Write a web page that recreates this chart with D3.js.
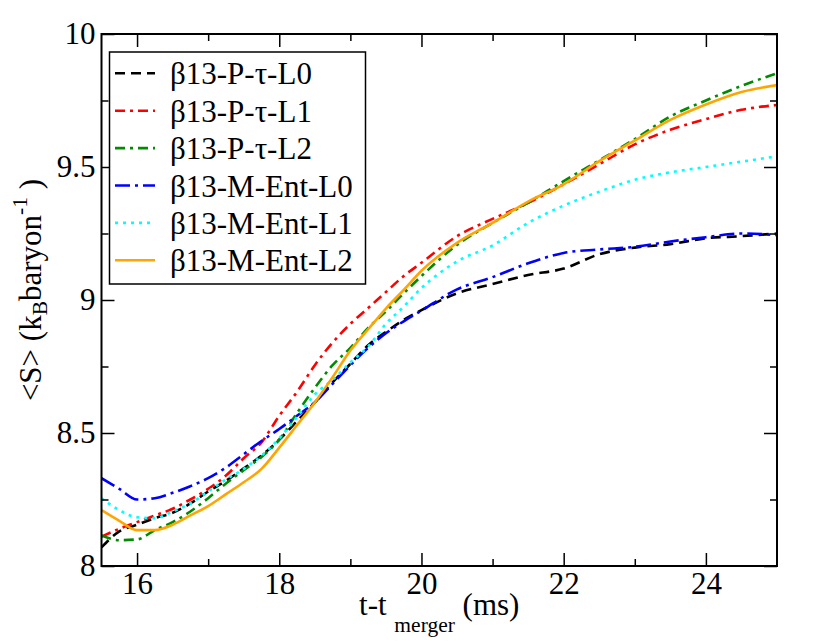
<!DOCTYPE html>
<html><head><meta charset="utf-8">
<script src="https://cdn.jsdelivr.net/npm/d3@7"></script>
<style>body{margin:0;background:#fff}svg{display:block}</style>
</head><body>
<svg id="c" width="830" height="642"></svg>
<script>
const times = [15.5,15.75,16,16.25,16.5,16.75,17,17.25,17.5,17.75,18,18.25,18.5,18.75,19,19.25,19.5,19.75,20,20.5,21,21.5,22,22.5,23,23.5,24,24.5,25];
const pTauL0 = [8.07,8.13,8.155,8.18,8.20,8.235,8.28,8.32,8.367,8.415,8.475,8.545,8.615,8.69,8.76,8.83,8.88,8.925,8.962,9.025,9.06,9.094,9.118,9.172,9.197,9.21,9.232,9.24,9.25];
const pTauL1 = [8.11,8.14,8.165,8.19,8.215,8.25,8.29,8.34,8.405,8.465,8.565,8.655,8.755,8.84,8.91,8.97,9.03,9.09,9.14,9.24,9.305,9.365,9.435,9.51,9.585,9.64,9.68,9.715,9.733];
const pTauL2 = [8.115,8.097,8.10,8.135,8.165,8.205,8.255,8.31,8.36,8.41,8.475,8.575,8.67,8.755,8.82,8.895,8.957,9.025,9.09,9.207,9.29,9.366,9.447,9.525,9.605,9.69,9.75,9.805,9.852];
const mEntL0 = [8.33,8.29,8.25,8.255,8.275,8.30,8.33,8.37,8.42,8.47,8.515,8.565,8.615,8.685,8.755,8.82,8.875,8.92,8.96,9.04,9.086,9.138,9.177,9.19,9.20,9.22,9.236,9.25,9.244];
const mEntL1 = [8.255,8.21,8.183,8.18,8.205,8.235,8.28,8.325,8.365,8.415,8.48,8.56,8.645,8.70,8.765,8.825,8.91,8.975,9.045,9.145,9.205,9.29,9.355,9.407,9.452,9.48,9.50,9.52,9.54];
const mEntL2 = [8.21,8.17,8.135,8.135,8.155,8.19,8.225,8.27,8.315,8.365,8.445,8.53,8.615,8.71,8.81,8.89,8.968,9.038,9.11,9.215,9.29,9.37,9.435,9.522,9.60,9.677,9.735,9.782,9.808];
const seriesNames = ["β13-P-τ-L0","β13-P-τ-L1","β13-P-τ-L2","β13-M-Ent-L0","β13-M-Ent-L1","β13-M-Ent-L2"];
const xMajor = [16,18,20,22,24];
const xMinor = [17,19,21,23];
const yMajor = [8,8.5,9,9.5,10];
const yMinor = [8.25,8.75,9.25,9.75];

const styles = [
  {color:"#000000", dash:"10,6"},
  {color:"#ff0000", dash:"10,5,3,5"},
  {color:"#008b00", dash:"10,5,3,5"},
  {color:"#0000ff", dash:"15,5,3,5"},
  {color:"#00ffff", dash:"3,5"},
  {color:"#ffa500", dash:null}
];
const allValues = [pTauL0,pTauL1,pTauL2,mEntL0,mEntL1,mEntL2];

const L=101.5, R=777, T=34, B=566;
const FS = 31;
function setFont(s){ return s.style("font-family", '"Liberation Serif", Tinos, Times, serif', "important"); }
const svg = d3.select("#c");
const x = d3.scaleLinear().domain([15.5,25]).range([L,R]);
const y = d3.scaleLinear().domain([8,10]).range([B,T]);

svg.append("defs").append("clipPath").attr("id","clip")
  .append("rect").attr("x",L).attr("y",T).attr("width",R-L).attr("height",B-T);

const line = d3.line().x(d=>x(d[0])).y(d=>y(d[1])).curve(d3.curveMonotoneX);
const g = svg.append("g").attr("clip-path","url(#clip)");
allValues.forEach((vals,i)=>{
  g.append("path").datum(times.map((t,k)=>[t,vals[k]]))
    .attr("d",line).attr("fill","none")
    .attr("stroke",styles[i].color).attr("stroke-width",2.6)
    .attr("stroke-dasharray",styles[i].dash);
});

function styleAxis(sel){
  sel.attr("font-family",null).attr("font-size",FS);
  sel.select(".domain").remove();
  sel.selectAll(".tick line").attr("stroke","#000").attr("stroke-width",1.5);
  sel.selectAll("text").attr("font-size",FS).attr("fill","#000").call(setFont);
}
svg.append("g").attr("transform",`translate(0,${B})`)
  .call(d3.axisBottom(x).tickValues(xMajor).tickSize(-13).tickPadding(5.5).tickFormat(d3.format("d")))
  .call(styleAxis);
svg.append("g").attr("transform",`translate(0,${B})`)
  .call(d3.axisBottom(x).tickValues(xMinor).tickSize(-7).tickFormat(""))
  .call(styleAxis);
svg.append("g").attr("transform",`translate(0,${T})`)
  .call(d3.axisTop(x).tickValues(xMajor).tickSize(-13).tickFormat(""))
  .call(styleAxis);
svg.append("g").attr("transform",`translate(0,${T})`)
  .call(d3.axisTop(x).tickValues(xMinor).tickSize(-7).tickFormat(""))
  .call(styleAxis);
svg.append("g").attr("transform",`translate(${L},0)`)
  .call(d3.axisLeft(y).tickValues(yMajor).tickSize(-13).tickPadding(6).tickFormat(d=>d3.format("")(d)))
  .call(styleAxis);
svg.append("g").attr("transform",`translate(${L},0)`)
  .call(d3.axisLeft(y).tickValues(yMinor).tickSize(-7).tickFormat(""))
  .call(styleAxis);
svg.append("g").attr("transform",`translate(${R},0)`)
  .call(d3.axisRight(y).tickValues(yMajor).tickSize(-13).tickFormat(""))
  .call(styleAxis);
svg.append("g").attr("transform",`translate(${R},0)`)
  .call(d3.axisRight(y).tickValues(yMinor).tickSize(-7).tickFormat(""))
  .call(styleAxis);

svg.append("rect").attr("x",L).attr("y",T).attr("width",R-L).attr("height",B-T)
  .attr("fill","none").attr("stroke","#000").attr("stroke-width",2);

const lg = svg.append("g");
lg.append("rect").attr("x",109.5).attr("y",52).attr("width",256).attr("height",232)
  .attr("fill","#fff").attr("stroke","#000").attr("stroke-width",1.5);
seriesNames.forEach((n,i)=>{
  const yy = 73.3 + i*37.4;
  lg.append("line").attr("x1",115).attr("x2",155).attr("y1",yy).attr("y2",yy)
    .attr("stroke",styles[i].color).attr("stroke-width",2.6)
    .attr("stroke-dasharray",styles[i].dash);
  lg.append("text").attr("x",170).attr("y",yy+11).text(n)
    .attr("font-size",FS).attr("fill","#000").call(setFont);
});

const xt = svg.append("text").attr("x",(L+R)/2).attr("y",615).attr("text-anchor","middle")
  .attr("font-size",FS).attr("fill","#000").call(setFont);
xt.append("tspan").text("t-t ");
xt.append("tspan").attr("font-size",21.5).attr("dy",17).text("merger");
xt.append("tspan").attr("dy",-17).text(" (ms)");

const yt = svg.append("text").attr("transform",`translate(41,${(T+B)/2 - 10}) rotate(-90)`)
  .attr("text-anchor","middle").attr("font-size",FS).attr("fill","#000").call(setFont);
yt.append("tspan").text("<S> (k");
yt.append("tspan").attr("font-size",21.5).attr("dy",6).text("B");
yt.append("tspan").attr("dy",-6).text("baryon");
yt.append("tspan").attr("font-size",21.5).attr("dy",-14).text("-1");
yt.append("tspan").attr("dy",14).text(" )");
</script>
</body></html>
